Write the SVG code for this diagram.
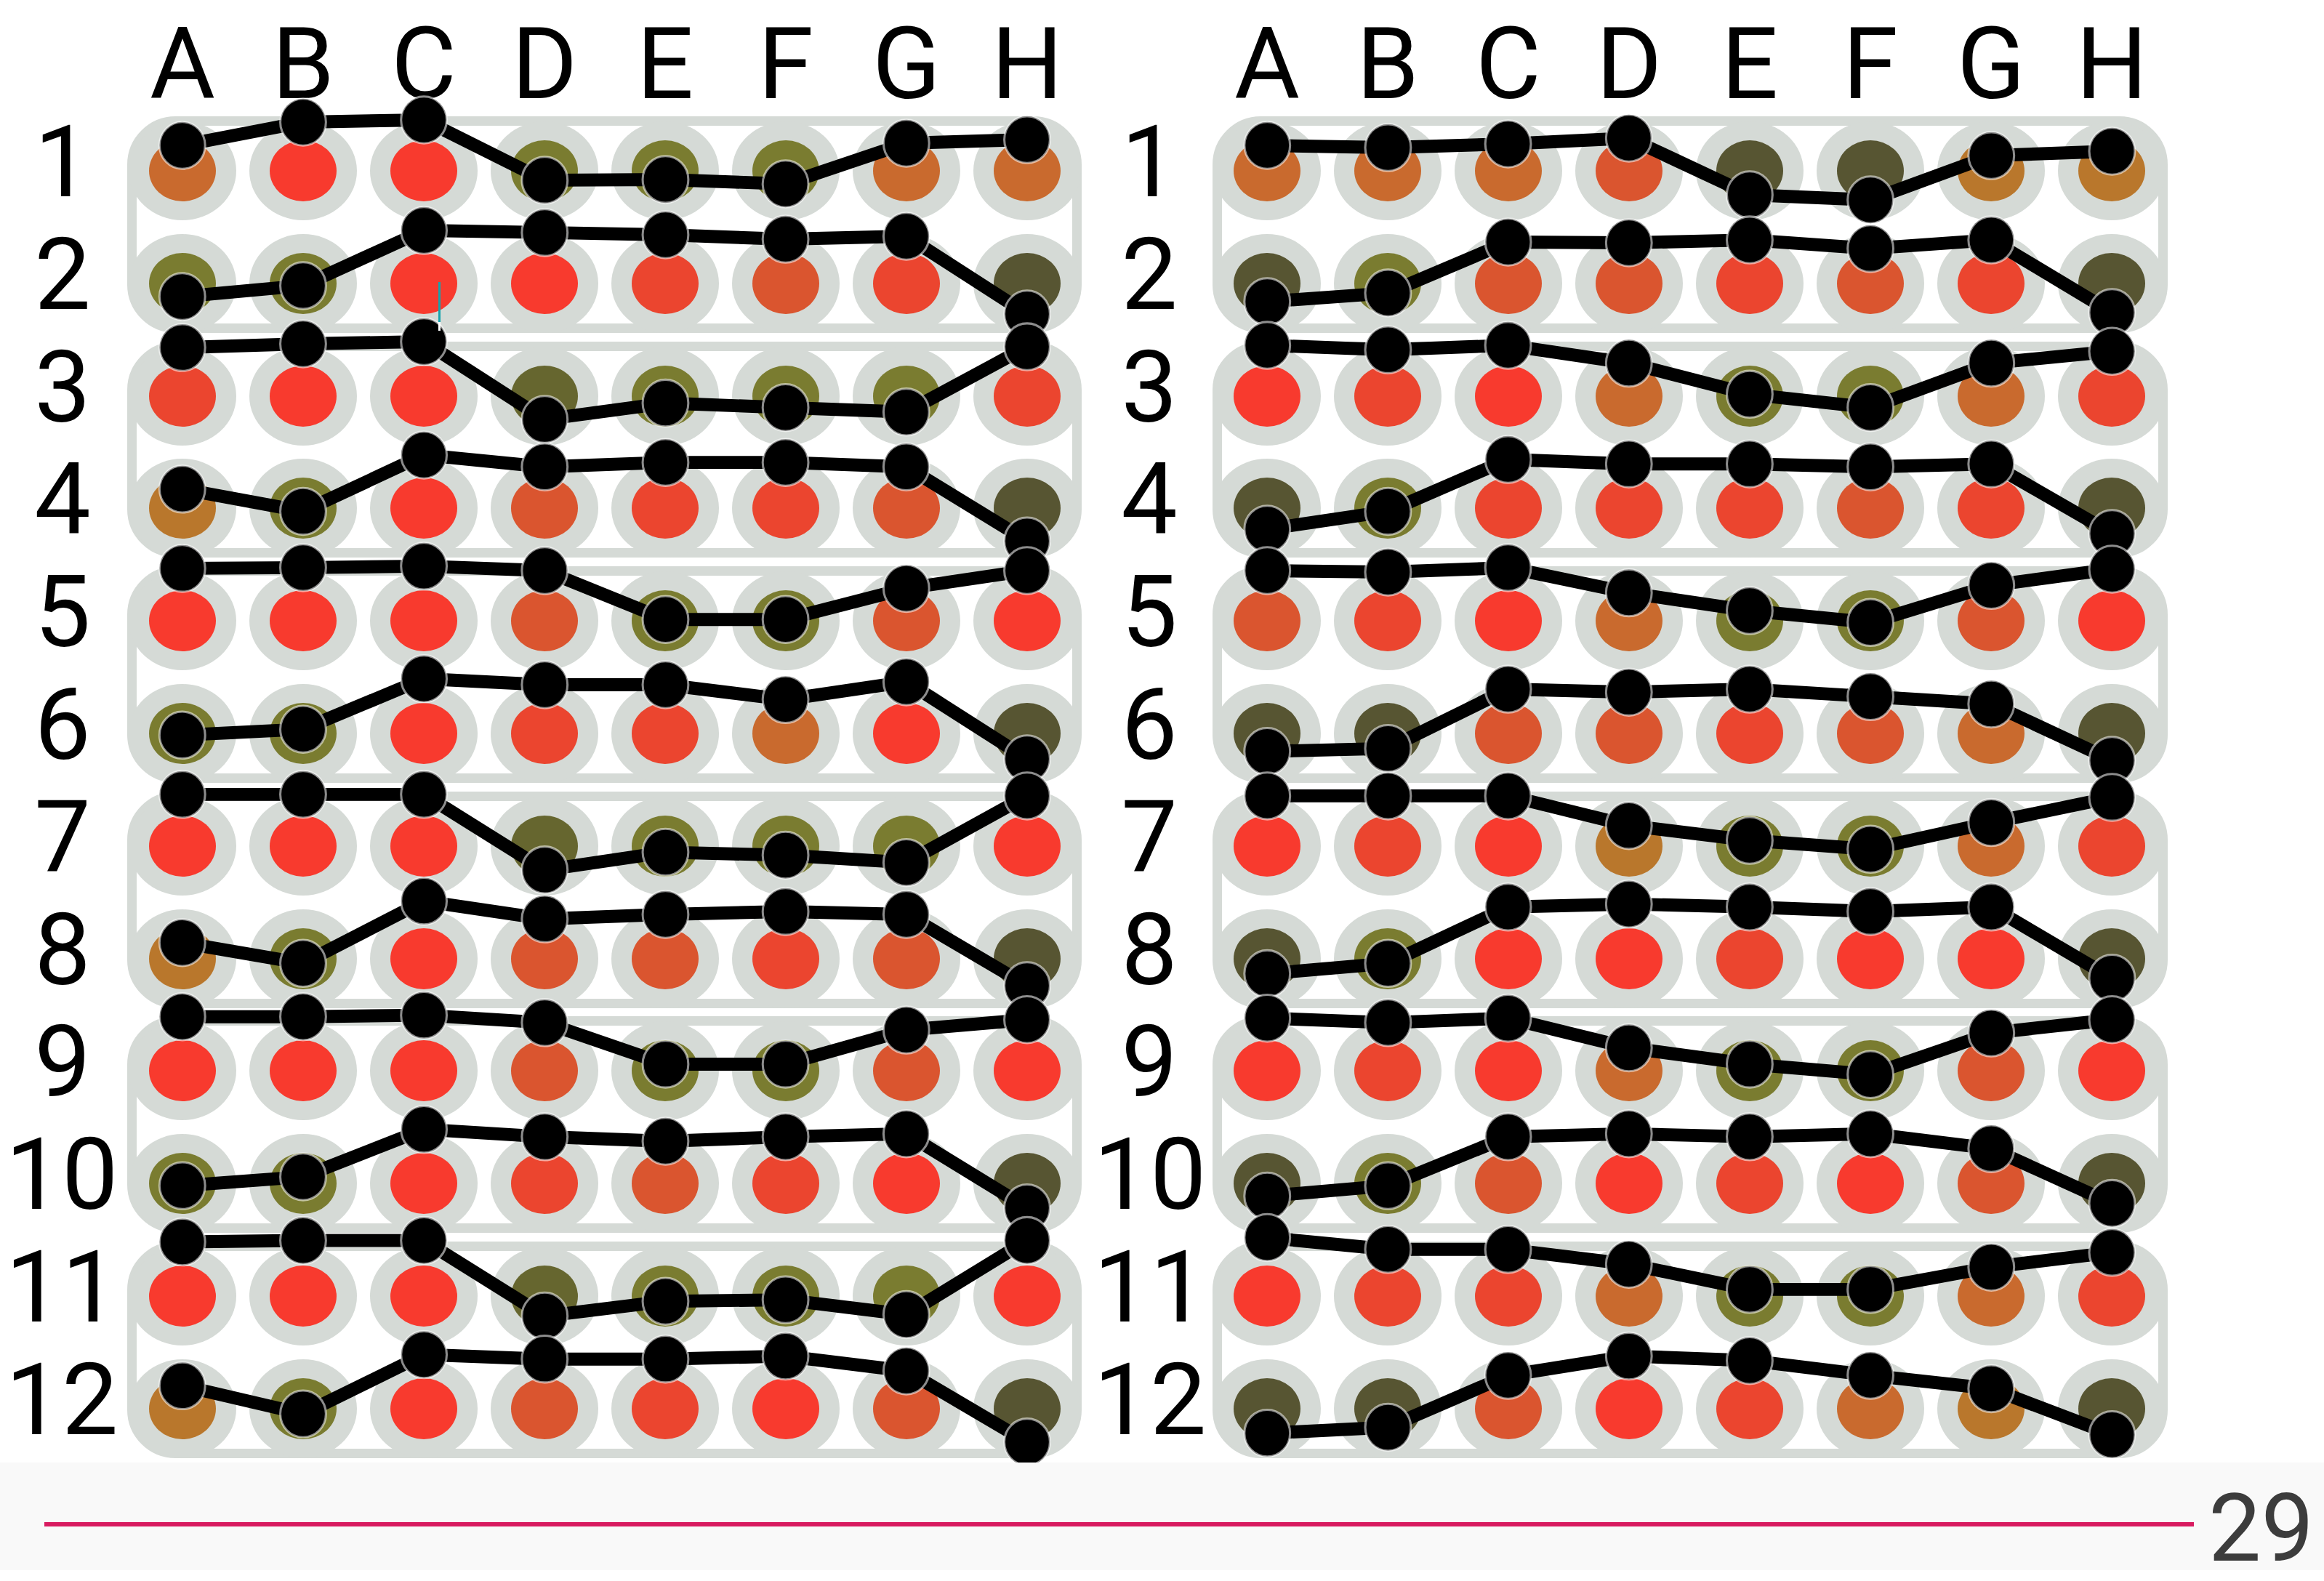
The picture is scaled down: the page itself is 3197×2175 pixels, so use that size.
<svg xmlns="http://www.w3.org/2000/svg" xmlns:xlink="http://www.w3.org/1999/xlink" width="3197" height="2175" viewBox="0 0 3197 2175">
<style>
.gr{fill:#d5dad6}
.st{fill:#fff;stroke:#d5dad6;stroke-width:13}
.R{fill:#f83a2e}.E{fill:#eb452f}.N{fill:#da552f}.O{fill:#c96a2e}.M{fill:#b9772c}.L{fill:#7a7c30}.P{fill:#66662f}.K{fill:#575532}
.tr{fill:none;stroke:#000;stroke-width:8.8;stroke-linejoin:round;marker-start:url(#dot);marker-mid:url(#dot);marker-end:url(#dot)}
.lb{font-family:Roboto,"Liberation Sans",sans-serif;font-size:138px;fill:#000;text-anchor:middle}
</style>
<defs>
<g id="grow" class="gr"><ellipse cx="0" rx="74" ry="68"/><ellipse cx="166" rx="74" ry="68"/><ellipse cx="332" rx="74" ry="68"/><ellipse cx="498" rx="74" ry="68"/><ellipse cx="664" rx="74" ry="68"/><ellipse cx="830" rx="74" ry="68"/><ellipse cx="996" rx="74" ry="68"/><ellipse cx="1162" rx="74" ry="68"/></g>
<ellipse id="w" rx="46" ry="42"/>
<marker id="dot" markerUnits="userSpaceOnUse" viewBox="0 0 40 40" refX="20" refY="20" markerWidth="40" markerHeight="40" overflow="visible"><ellipse cx="20" cy="20" rx="15.4" ry="15.8" fill="#000" stroke="#fff" stroke-opacity=".55" stroke-width="1.5"/></marker>
</defs>
<rect width="3197" height="2175" fill="#fff"/>
<g id="labels" class="lb">
<text x="251" y="135">A</text><text x="417" y="135">B</text><text x="583" y="135">C</text><text x="749" y="135">D</text><text x="915" y="135">E</text><text x="1081" y="135">F</text><text x="1247" y="135">G</text><text x="1413" y="135">H</text>
<text x="1743" y="135">A</text><text x="1909" y="135">B</text><text x="2075" y="135">C</text><text x="2241" y="135">D</text><text x="2407" y="135">E</text><text x="2573" y="135">F</text><text x="2739" y="135">G</text><text x="2905" y="135">H</text>
<text x="86" y="270">1</text><text x="86" y="425">2</text><text x="86" y="580">3</text><text x="86" y="734">4</text><text x="86" y="889">5</text><text x="86" y="1044">6</text><text x="86" y="1199">7</text><text x="86" y="1354">8</text><text x="86" y="1508">9</text><text x="85" y="1663">10</text><text x="85" y="1818">11</text><text x="85" y="1973">12</text>
<text x="1581" y="270">1</text><text x="1581" y="425">2</text><text x="1581" y="580">3</text><text x="1581" y="734">4</text><text x="1581" y="889">5</text><text x="1581" y="1044">6</text><text x="1581" y="1199">7</text><text x="1581" y="1354">8</text><text x="1581" y="1508">9</text><text x="1582" y="1663">10</text><text x="1582" y="1818">11</text><text x="1582" y="1973">12</text>
</g>
<g id="strips" class="st">
<rect x="181.5" y="166.5" width="1300" height="285" rx="60"/><rect x="181.5" y="476.5" width="1300" height="284" rx="60"/><rect x="181.5" y="785.5" width="1300" height="285" rx="60"/><rect x="181.5" y="1095.5" width="1300" height="285" rx="60"/><rect x="181.5" y="1404.5" width="1300" height="285" rx="60"/><rect x="181.5" y="1714.5" width="1300" height="285" rx="60"/>
<rect x="1674.5" y="166.5" width="1301" height="285" rx="60"/><rect x="1674.5" y="476.5" width="1301" height="284" rx="60"/><rect x="1674.5" y="785.5" width="1301" height="285" rx="60"/><rect x="1674.5" y="1095.5" width="1301" height="285" rx="60"/><rect x="1674.5" y="1404.5" width="1301" height="285" rx="60"/><rect x="1674.5" y="1714.5" width="1301" height="285" rx="60"/>
</g>
<g id="wellrims">
<use href="#grow" x="251" y="235"/><use href="#grow" x="251" y="390"/><use href="#grow" x="251" y="545"/><use href="#grow" x="251" y="699"/><use href="#grow" x="251" y="854"/><use href="#grow" x="251" y="1009"/><use href="#grow" x="251" y="1164"/><use href="#grow" x="251" y="1319"/><use href="#grow" x="251" y="1473"/><use href="#grow" x="251" y="1628"/><use href="#grow" x="251" y="1783"/><use href="#grow" x="251" y="1938"/>
<use href="#grow" x="1743" y="235"/><use href="#grow" x="1743" y="390"/><use href="#grow" x="1743" y="545"/><use href="#grow" x="1743" y="699"/><use href="#grow" x="1743" y="854"/><use href="#grow" x="1743" y="1009"/><use href="#grow" x="1743" y="1164"/><use href="#grow" x="1743" y="1319"/><use href="#grow" x="1743" y="1473"/><use href="#grow" x="1743" y="1628"/><use href="#grow" x="1743" y="1783"/><use href="#grow" x="1743" y="1938"/>
</g>
<g id="wells">
<g transform="translate(0,235)"><use href="#w" x="251" class="O"/><use href="#w" x="417" class="R"/><use href="#w" x="583" class="R"/><use href="#w" x="749" class="L"/><use href="#w" x="915" class="L"/><use href="#w" x="1081" class="L"/><use href="#w" x="1247" class="O"/><use href="#w" x="1413" class="O"/><use href="#w" x="1743" class="O"/><use href="#w" x="1909" class="O"/><use href="#w" x="2075" class="O"/><use href="#w" x="2241" class="N"/><use href="#w" x="2407" class="K"/><use href="#w" x="2573" class="K"/><use href="#w" x="2739" class="M"/><use href="#w" x="2905" class="M"/></g>
<g transform="translate(0,390)"><use href="#w" x="251" class="L"/><use href="#w" x="417" class="L"/><use href="#w" x="583" class="R"/><use href="#w" x="749" class="R"/><use href="#w" x="915" class="E"/><use href="#w" x="1081" class="N"/><use href="#w" x="1247" class="E"/><use href="#w" x="1413" class="K"/><use href="#w" x="1743" class="K"/><use href="#w" x="1909" class="L"/><use href="#w" x="2075" class="N"/><use href="#w" x="2241" class="N"/><use href="#w" x="2407" class="E"/><use href="#w" x="2573" class="N"/><use href="#w" x="2739" class="E"/><use href="#w" x="2905" class="K"/></g>
<g transform="translate(0,545)"><use href="#w" x="251" class="E"/><use href="#w" x="417" class="R"/><use href="#w" x="583" class="R"/><use href="#w" x="749" class="P"/><use href="#w" x="915" class="L"/><use href="#w" x="1081" class="L"/><use href="#w" x="1247" class="L"/><use href="#w" x="1413" class="E"/><use href="#w" x="1743" class="R"/><use href="#w" x="1909" class="E"/><use href="#w" x="2075" class="R"/><use href="#w" x="2241" class="O"/><use href="#w" x="2407" class="L"/><use href="#w" x="2573" class="L"/><use href="#w" x="2739" class="O"/><use href="#w" x="2905" class="E"/></g>
<g transform="translate(0,699)"><use href="#w" x="251" class="M"/><use href="#w" x="417" class="L"/><use href="#w" x="583" class="R"/><use href="#w" x="749" class="N"/><use href="#w" x="915" class="E"/><use href="#w" x="1081" class="E"/><use href="#w" x="1247" class="N"/><use href="#w" x="1413" class="K"/><use href="#w" x="1743" class="K"/><use href="#w" x="1909" class="L"/><use href="#w" x="2075" class="E"/><use href="#w" x="2241" class="E"/><use href="#w" x="2407" class="E"/><use href="#w" x="2573" class="N"/><use href="#w" x="2739" class="E"/><use href="#w" x="2905" class="K"/></g>
<g transform="translate(0,854)"><use href="#w" x="251" class="R"/><use href="#w" x="417" class="R"/><use href="#w" x="583" class="R"/><use href="#w" x="749" class="N"/><use href="#w" x="915" class="L"/><use href="#w" x="1081" class="L"/><use href="#w" x="1247" class="N"/><use href="#w" x="1413" class="R"/><use href="#w" x="1743" class="N"/><use href="#w" x="1909" class="E"/><use href="#w" x="2075" class="R"/><use href="#w" x="2241" class="O"/><use href="#w" x="2407" class="L"/><use href="#w" x="2573" class="L"/><use href="#w" x="2739" class="N"/><use href="#w" x="2905" class="R"/></g>
<g transform="translate(0,1009)"><use href="#w" x="251" class="L"/><use href="#w" x="417" class="L"/><use href="#w" x="583" class="R"/><use href="#w" x="749" class="E"/><use href="#w" x="915" class="E"/><use href="#w" x="1081" class="O"/><use href="#w" x="1247" class="R"/><use href="#w" x="1413" class="K"/><use href="#w" x="1743" class="K"/><use href="#w" x="1909" class="K"/><use href="#w" x="2075" class="N"/><use href="#w" x="2241" class="N"/><use href="#w" x="2407" class="E"/><use href="#w" x="2573" class="N"/><use href="#w" x="2739" class="O"/><use href="#w" x="2905" class="K"/></g>
<g transform="translate(0,1164)"><use href="#w" x="251" class="R"/><use href="#w" x="417" class="R"/><use href="#w" x="583" class="R"/><use href="#w" x="749" class="P"/><use href="#w" x="915" class="L"/><use href="#w" x="1081" class="L"/><use href="#w" x="1247" class="L"/><use href="#w" x="1413" class="R"/><use href="#w" x="1743" class="R"/><use href="#w" x="1909" class="E"/><use href="#w" x="2075" class="R"/><use href="#w" x="2241" class="M"/><use href="#w" x="2407" class="L"/><use href="#w" x="2573" class="L"/><use href="#w" x="2739" class="O"/><use href="#w" x="2905" class="E"/></g>
<g transform="translate(0,1319)"><use href="#w" x="251" class="M"/><use href="#w" x="417" class="L"/><use href="#w" x="583" class="R"/><use href="#w" x="749" class="N"/><use href="#w" x="915" class="N"/><use href="#w" x="1081" class="E"/><use href="#w" x="1247" class="N"/><use href="#w" x="1413" class="K"/><use href="#w" x="1743" class="K"/><use href="#w" x="1909" class="L"/><use href="#w" x="2075" class="R"/><use href="#w" x="2241" class="R"/><use href="#w" x="2407" class="E"/><use href="#w" x="2573" class="R"/><use href="#w" x="2739" class="R"/><use href="#w" x="2905" class="K"/></g>
<g transform="translate(0,1473)"><use href="#w" x="251" class="R"/><use href="#w" x="417" class="R"/><use href="#w" x="583" class="R"/><use href="#w" x="749" class="N"/><use href="#w" x="915" class="L"/><use href="#w" x="1081" class="L"/><use href="#w" x="1247" class="N"/><use href="#w" x="1413" class="R"/><use href="#w" x="1743" class="R"/><use href="#w" x="1909" class="E"/><use href="#w" x="2075" class="R"/><use href="#w" x="2241" class="O"/><use href="#w" x="2407" class="L"/><use href="#w" x="2573" class="L"/><use href="#w" x="2739" class="N"/><use href="#w" x="2905" class="R"/></g>
<g transform="translate(0,1628)"><use href="#w" x="251" class="L"/><use href="#w" x="417" class="L"/><use href="#w" x="583" class="R"/><use href="#w" x="749" class="E"/><use href="#w" x="915" class="N"/><use href="#w" x="1081" class="E"/><use href="#w" x="1247" class="R"/><use href="#w" x="1413" class="K"/><use href="#w" x="1743" class="K"/><use href="#w" x="1909" class="L"/><use href="#w" x="2075" class="N"/><use href="#w" x="2241" class="R"/><use href="#w" x="2407" class="E"/><use href="#w" x="2573" class="R"/><use href="#w" x="2739" class="N"/><use href="#w" x="2905" class="K"/></g>
<g transform="translate(0,1783)"><use href="#w" x="251" class="R"/><use href="#w" x="417" class="R"/><use href="#w" x="583" class="R"/><use href="#w" x="749" class="P"/><use href="#w" x="915" class="L"/><use href="#w" x="1081" class="L"/><use href="#w" x="1247" class="L"/><use href="#w" x="1413" class="R"/><use href="#w" x="1743" class="R"/><use href="#w" x="1909" class="E"/><use href="#w" x="2075" class="E"/><use href="#w" x="2241" class="O"/><use href="#w" x="2407" class="L"/><use href="#w" x="2573" class="L"/><use href="#w" x="2739" class="O"/><use href="#w" x="2905" class="E"/></g>
<g transform="translate(0,1938)"><use href="#w" x="251" class="M"/><use href="#w" x="417" class="L"/><use href="#w" x="583" class="R"/><use href="#w" x="749" class="N"/><use href="#w" x="915" class="E"/><use href="#w" x="1081" class="R"/><use href="#w" x="1247" class="N"/><use href="#w" x="1413" class="K"/><use href="#w" x="1743" class="K"/><use href="#w" x="1909" class="K"/><use href="#w" x="2075" class="N"/><use href="#w" x="2241" class="R"/><use href="#w" x="2407" class="E"/><use href="#w" x="2573" class="O"/><use href="#w" x="2739" class="M"/><use href="#w" x="2905" class="K"/></g>
</g>
<g id="connectors" class="tr" transform="scale(2.03891)">
<polyline points="123,98.1 204.5,82.4 286,80.9 367.5,121.6 449,121.1 530,124.1 611.5,96.6 693,94.2"/>
<polyline points="123,200.1 204.5,192.7 286,155.5 367.5,156.9 449,158.4 530,161.4 611.5,159.4 693,211.9"/>
<polyline points="123,234.5 204.5,232 286,230.5 367.5,283 449,272 530,275 611.5,278 693,234"/>
<polyline points="123,330 204.5,345 286,307 367.5,315 449,312 530,312 611.5,315 693,365"/>
<polyline points="123,383.5 204.5,383 286,382 367.5,385 449,418 530,418 611.5,397 693,385"/>
<polyline points="123,496 204.5,492 286,458 367.5,462 449,462 530,472 611.5,460 693,512"/>
<polyline points="123,536 204.5,536 286,536 367.5,587 449,575 530,577 611.5,582 693,537"/>
<polyline points="123,636 204.5,650 286,608 367.5,620 449,617 530,615 611.5,617 693,665"/>
<polyline points="123,686 204.5,686 286,685 367.5,690 449,718 530,718 611.5,695 693,688"/>
<polyline points="123,800 204.5,794 286,762 367.5,767 449,770 530,767 611.5,765 693,815"/>
<polyline points="123,838 204.5,837 286,837 367.5,888 449,878 530,877 611.5,887 693,837"/>
<polyline points="123,935 204.5,954 286,914 367.5,917 449,917 530,915 611.5,925 693,973"/>
<polyline points="855,98.1 936.5,99.6 1017.5,97.1 1099,93.2 1180.5,131.4 1262,134.9 1343.5,105 1425,102"/>
<polyline points="855,203.5 936.5,197.7 1017.5,163.3 1099,163.8 1180.5,161.9 1262,167.7 1343.5,161.9 1425,210.9"/>
<polyline points="855,233 936.5,236 1017.5,233 1099,245 1180.5,266 1262,275 1343.5,245 1425,237"/>
<polyline points="855,357 936.5,345 1017.5,310 1099,313 1180.5,313 1262,315 1343.5,313 1425,360"/>
<polyline points="855,385 936.5,386 1017.5,383 1099,400 1180.5,412 1262,420 1343.5,395 1425,384"/>
<polyline points="855,507 936.5,505 1017.5,465 1099,467 1180.5,465 1262,470 1343.5,475 1425,513"/>
<polyline points="855,537 936.5,537 1017.5,537 1099,557 1180.5,567 1262,573 1343.5,555 1425,538"/>
<polyline points="855,657 936.5,650 1017.5,612 1099,610 1180.5,612 1262,615 1343.5,612 1425,660"/>
<polyline points="855,687 936.5,690 1017.5,687 1099,707 1180.5,718 1262,725 1343.5,697 1425,688"/>
<polyline points="855,807 936.5,800 1017.5,767 1099,765 1180.5,767 1262,765 1343.5,775 1425,812"/>
<polyline points="855,835 936.5,843 1017.5,843 1099,853 1180.5,870 1262,870 1343.5,855 1425,845"/>
<polyline points="855,967 936.5,963 1017.5,928 1099,915 1180.5,918 1262,928 1343.5,937 1425,968"/>
</g>
<g id="cursor">
<line x1="604.5" y1="388" x2="604.5" y2="443" stroke="#17a3ad" stroke-width="3"/>
<line x1="604.5" y1="443" x2="604.5" y2="455" stroke="#fff" stroke-width="3"/>
</g>
<g id="footer">
<rect x="0" y="2012" width="3197" height="148" fill="#f9f9f9"/>
<line x1="61" y1="2097" x2="3018" y2="2097" stroke="#d81b60" stroke-width="6"/>
<text x="3183" y="2147" font-family="Roboto,'Liberation Sans',sans-serif" font-size="129" fill="#3c3c3c" text-anchor="end">29</text>
</g>
</svg>
